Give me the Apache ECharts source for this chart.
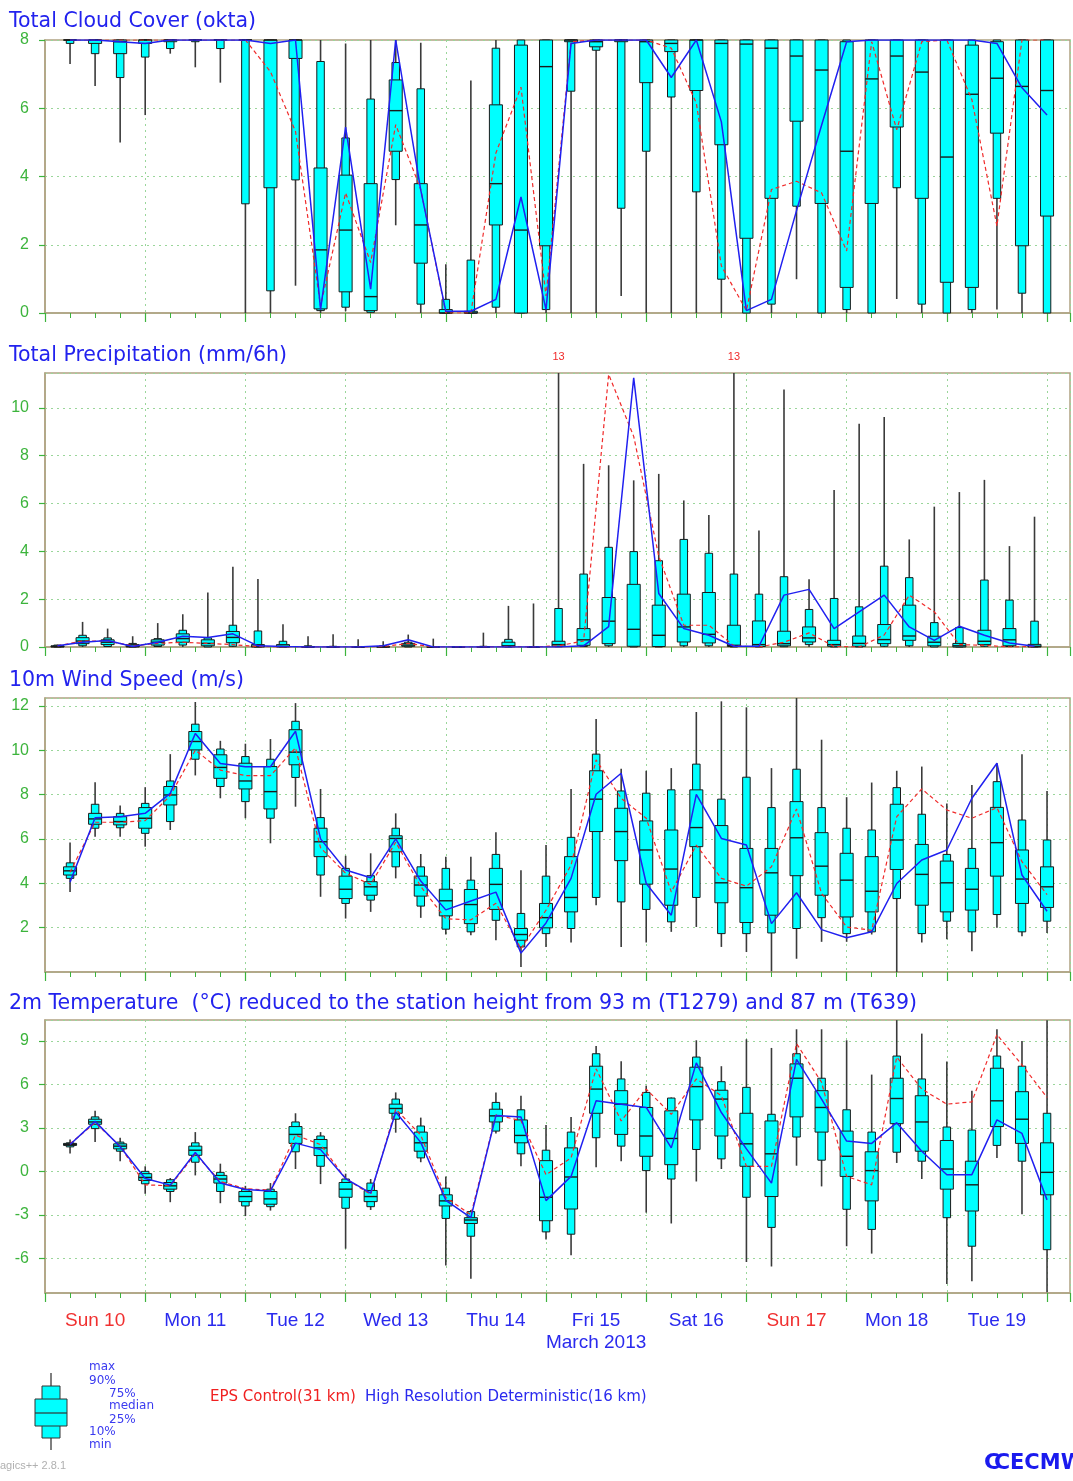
<!DOCTYPE html>
<html><head><meta charset="utf-8">
<script src="https://cdn.jsdelivr.net/npm/echarts@6/dist/echarts.min.js"></script>
<style>html,body{margin:0;padding:0;background:#fff}#c{width:1073px;height:1481px}</style>
</head><body><div id="c"></div>
<script>
// ---------- DATA ----------
const HOURS = [6,12,18,24,30,36,42,48,54,60,66,72,78,84,90,96,102,108,114,120,126,132,138,144,150,156,162,168,174,180,186,192,198,204,210,216,222,228,234,240];
const PRECIP_HOURS = [3,9,15,21,27,33,39,45,51,57,63,69,75,81,87,93,99,105,111,117,123,129,135,141,147,153,159,165,171,177,183,189,195,201,207,213,219,225,231,237];
const DAY_LABELS = ['Sun 10','Mon 11','Tue 12','Wed 13','Thu 14','Fri 15','Sat 16','Sun 17','Mon 18','Tue 19'];
const DAY_LABEL_HOURS = [12,36,60,84,108,132,156,180,204,228];
const MONTH_LABEL = 'March 2013';

// boxes: [min, p10, p25, median, p75, p90, max]
const cloudBoxes = [
[7.3,7.9,8,8,8,8,8],[6.65,7.6,7.9,8,8,8,8],[5.0,6.9,7.6,7.95,8,8,8],[5.8,7.5,7.9,8,8,8,8],
[7.6,7.75,7.95,8,8,8,8],[7.2,7.95,8,8,8,8,8],[6.75,7.75,8,8,8,8,8],[0,3.2,8,8,8,8,8],
[0,0.65,3.67,8,8,8,8],[0.8,3.9,7.46,8,8,8,8],[0,0.07,0.12,1.85,4.25,7.37,8],[0.05,0.17,0.62,2.43,4.04,5.13,7.9],
[0,0.02,0.07,0.48,3.79,6.27,8],[2.57,3.91,4.74,5.93,6.83,7.34,8],[0,0.26,1.46,2.58,3.79,6.57,7.92],[0,0,0,0,0.1,0.4,1.43],
[0,0,0,0,0.05,1.55,6.81],[0,0.17,2.58,3.79,6.1,7.76,8],[0,0,0,2.43,7.85,8,8],[0,0.1,1.97,7.22,8,8,8],
[0,6.5,7.95,8,8,8,8],[0,7.7,7.8,7.95,8,8,8],[0.5,3.07,7.95,8,8,8,8],[0,4.74,6.75,7.95,8,8,8],
[0,6.33,7.66,7.9,8,8,8],[0,3.55,6.52,8,8,8,8],[0,0.99,4.93,7.9,8,8,8],[0,0,2.19,7.88,8,8,8],
[0,0.26,3.36,7.76,8,8,8],[0.99,3.13,5.62,7.53,8,8,8],[0,0,3.21,7.12,8,8,8],[0,0.1,0.75,4.74,7.95,8,8],
[0,0,3.21,6.86,8,8,8],[0.41,3.67,5.45,7.53,8,8,8],[0,0.26,3.36,7.06,8,8,8],[0,0,0.9,4.57,8,8,8],
[0,0.1,0.75,6.41,7.85,8,8],[0.1,3.36,5.27,6.88,7.95,8,8],[0,0.58,1.97,6.64,8,8,8],[0,0,2.84,6.52,8,8,8]];
const cloudControl = [8,8,8,8,8,8,8,8,7.07,5.32,0.2,3.52,1.48,5.52,3.62,0,0,4.69,6.62,0.5,7.95,8,8,8,7.76,6.15,1.38,0.07,3.62,3.86,3.52,1.82,7.95,5.37,7.95,8,6.25,2.55,8,8];
const cloudHres = [8,8,7.95,7.9,8,8,8,8,7.9,8,0.1,5.45,0.7,8,3.6,0.05,0.05,0.4,3.4,0.1,7.9,8,8,8,6.9,8,5.6,0.07,0.4,3.0,5.5,7.95,8,8,8,8,8,7.9,6.6,5.8];

const precipBoxes = [
[0,0,0,0.02,0.05,0.08,0.1],[0,0.05,0.14,0.25,0.39,0.49,1.05],[0,0.02,0.1,0.2,0.3,0.38,0.77],[0,0,0,0.03,0.1,0.15,0.45],
[0,0.02,0.08,0.2,0.3,0.35,1.0],[0,0.08,0.2,0.35,0.55,0.7,1.37],[0,0,0.05,0.15,0.3,0.38,2.28],[0,0.03,0.18,0.4,0.65,0.91,3.36],
[0,0,0,0.03,0.1,0.67,2.84],[0,0,0,0.03,0.1,0.24,0.95],[0,0,0,0,0.02,0.05,0.45],[0,0,0,0,0.01,0.03,0.53],
[0,0,0,0,0,0.02,0.32],[0,0,0,0,0.02,0.05,0.24],[0,0,0.03,0.08,0.15,0.2,0.52],[0,0,0,0,0,0,0.35],
[0,0,0,0,0,0,0],[0,0,0,0,0.01,0.03,0.6],[0,0,0.01,0.05,0.2,0.32,1.72],[0,0,0,0,0,0.02,1.82],
[0,0.01,0.03,0.1,0.24,1.61,13],[0,0.02,0.07,0.3,0.77,3.05,7.66],[0,0.05,0.14,1.08,2.07,4.17,7.6],[0,0,0.03,0.74,2.62,3.99,6.97],
[0,0,0.02,0.49,1.75,3.61,7.24],[0,0.05,0.21,0.84,2.21,4.5,6.13],[0,0.05,0.17,0.53,2.28,3.92,5.52],[0,0,0.02,0.07,0.91,3.05,13],
[0,0,0.02,0.1,1.09,2.21,4.87],[0,0.01,0.05,0.14,0.66,2.94,10.77],[0,0.1,0.21,0.38,0.84,1.57,2.83],[0,0,0.03,0.1,0.28,2.03,6.57],
[0,0,0.03,0.15,0.46,1.68,9.34],[0,0.03,0.14,0.31,0.94,3.38,9.62],[0,0.05,0.28,0.46,1.75,2.9,4.5],[0,0,0.05,0.2,0.45,1.02,5.87],
[0,0,0,0.05,0.15,0.81,6.48],[0,0.03,0.1,0.24,0.7,2.8,6.99],[0,0.02,0.05,0.3,0.77,1.96,4.22],[0,0,0,0.03,0.11,1.08,5.45]];
const precipControl = [0.05,0.25,0.25,0.05,0.15,0.2,0.15,0.1,0.02,0,0,0,0,0.02,0.15,0,0,0,0.02,0,0.05,0.25,11.4,8.81,3.8,0.91,0.91,0.05,0,0.2,0.59,0.02,0,0.5,2.17,1.47,0.1,0.07,0,0.02];
const precipHres = [0.05,0.2,0.27,0.02,0.2,0.45,0.4,0.55,0.05,0.02,0,0,0,0.05,0.3,0,0,0,0,0,0,0.05,0.85,11.26,2.24,0.77,0.49,0.03,0.03,2.17,2.41,0.77,1.47,2.17,0.84,0.28,0.87,0.49,0.17,0.03];

const windBoxes = [
[3.61,4.22,4.37,4.56,4.74,4.92,5.84],[6.1,6.48,6.66,6.9,7.15,7.56,8.55],[6.1,6.5,6.63,6.78,7.0,7.15,7.5],[5.65,6.25,6.48,6.93,7.41,7.6,8.33],
[6.4,6.78,7.53,7.98,8.36,8.61,9.82],[8.86,9.59,10.01,10.39,10.84,11.17,12.17],[7.83,8.36,8.73,9.22,9.79,10.05,10.42],[6.93,7.68,8.25,8.61,9.41,9.71,10.29],
[5.8,6.93,7.35,8.13,9.26,9.59,10.5],[7.45,8.77,9.34,9.91,10.92,11.3,12.12],[3.39,4.37,5.2,5.87,6.48,6.96,8.25],[2.41,3.09,3.31,3.73,4.32,4.67,5.24],
[2.71,3.24,3.46,3.84,4.07,4.34,5.35],[4.22,4.74,5.42,6.02,6.14,6.48,7.15],[2.44,2.97,3.42,3.92,4.32,4.74,5.32],[1.69,1.93,2.53,3.21,3.73,4.67,5.2],
[1.66,1.81,2.18,3.04,3.72,4.14,5.2],[1.43,2.33,2.82,3.95,4.67,5.3,6.3],[0.23,1.13,1.43,1.69,1.96,2.64,4.59],[1.13,1.73,1.99,2.45,3.09,4.32,5.72],
[1.33,1.96,2.71,3.36,5.2,6.07,8.25],[3.01,3.36,6.33,7.79,9.07,9.82,11.4],[1.13,3.16,5.02,6.33,7.38,8.16,9.16],[1.33,2.82,3.96,5.5,6.81,8.06,9.07],
[1.81,2.26,3.01,4.64,6.4,8.21,9.19],[2.03,3.36,5.65,6.51,8.21,9.37,11.72],[1.13,1.73,3.12,4.02,6.6,7.79,12.2],[0.9,1.73,2.23,3.8,5.57,8.78,11.93],
[0.03,1.76,2.56,4.47,5.57,7.41,9.19],[0.6,1.96,4.34,6.05,7.68,9.14,12.35],[1.36,2.45,3.46,4.77,6.28,7.41,10.47],[1.36,1.73,2.48,4.14,5.35,6.48,7.88],
[1.69,1.81,2.71,3.64,5.2,6.4,8.54],[0,3.31,4.62,5.95,7.56,8.31,9.07],[1.33,1.73,3.01,4.4,5.75,7.11,9.26],[1.48,2.29,2.71,4.02,5.0,5.3,7.6],
[0.93,1.81,2.79,3.73,4.67,5.57,8.43],[1.99,2.59,4.32,5.83,7.42,8.58,9.41],[1.61,1.81,3.09,4.19,5.5,6.85,9.82],[1.76,2.29,2.91,3.84,4.74,5.95,8.16]];
const windControl = [4.5,6.75,6.75,6.82,7.95,10.0,9.1,8.85,8.85,10.1,5.6,4.45,3.95,5.85,3.85,2.4,2.35,3.1,1.05,2.79,4.82,9.56,7.83,6.93,3.61,5.72,4.22,3.87,4.74,7.35,3.54,2.03,1.88,7.0,8.25,7.3,6.93,7.41,4.97,3.49];
const windHres = [4.05,6.95,7.0,7.15,8.05,10.75,9.4,9.25,9.25,10.85,6.0,4.6,4.25,6.0,4.1,2.8,3.2,3.6,0.85,2.21,4.22,8.01,8.96,3.99,2.56,8.01,6.02,5.72,2.18,3.57,1.91,1.54,1.81,3.99,5.05,5.5,7.83,9.41,4.37,2.74];

const tempBoxes = [
[1.23,1.69,1.79,1.86,1.93,1.97,2.2],[2.02,2.95,3.25,3.41,3.6,3.76,4.18],[0.7,1.39,1.55,1.74,1.9,2.02,2.32],[-1.55,-0.86,-0.63,-0.42,-0.16,0,0.35],
[-2.13,-1.39,-1.23,-1.0,-0.77,-0.58,-0.46],[-0.28,0.63,1.11,1.46,1.74,1.97,2.71],[-2.2,-1.39,-0.81,-0.53,-0.28,-0.07,0.53],[-3.09,-2.39,-2.09,-1.74,-1.39,-1.23,-1.0],
[-2.71,-2.44,-2.27,-1.9,-1.39,-1.23,-0.81],[0.16,1.35,1.93,2.55,3.09,3.41,4.01],[-0.88,0.35,1.09,1.62,2.2,2.44,2.71],[-5.34,-2.55,-1.79,-1.23,-0.77,-0.53,-0.16],
[-2.67,-2.44,-2.09,-1.74,-1.32,-0.81,-0.53],[2.67,3.6,4.01,4.34,4.64,4.99,5.45],[0.63,0.93,1.39,1.97,2.71,3.13,3.71],[-6.5,-3.25,-2.39,-2.04,-1.62,-1.16,-0.35],
[-7.42,-4.48,-3.6,-3.36,-3.2,-2.78,-2.67],[2.62,2.78,3.41,3.83,4.29,4.76,5.45],[0.35,1.21,1.97,2.48,3.55,4.25,5.22],[-4.71,-4.18,-3.41,-1.79,0.74,1.46,3.2],
[-5.8,-4.34,-2.6,-0.39,1.62,2.71,3.76],[0.28,2.32,4.01,5.68,7.26,8.12,8.65],[0.7,1.74,2.55,4.64,5.57,6.38,7.61],[-2.85,0.05,1.04,2.44,4.41,5.45,5.92],
[-3.6,-0.53,0.46,2.27,4.18,5.06,5.1],[-0.7,1.51,3.55,5.85,7.19,7.89,9.05],[0.16,0.86,2.44,4.99,5.6,6.19,7.26],[-6.26,-1.79,0.35,1.9,4.01,5.8,9.12],
[-6.57,-3.87,-1.74,1.21,3.48,3.94,8.52],[0.39,2.37,3.76,6.43,7.42,8.12,9.81],[-1.04,0.77,2.71,4.41,5.57,6.43,9.81],[-5.17,-2.62,-0.35,1.04,2.78,4.25,9.05],
[-5.68,-4.01,-2.04,0.05,1.35,2.71,6.68],[0.58,1.32,3.29,5.03,6.43,7.96,10.44],[-0.53,0.7,1.39,3.41,5.22,6.38,9.51],[-7.77,-3.2,-1.23,0.16,2.13,3.06,7.59],
[-7.59,-5.17,-2.74,-0.93,0.7,2.85,5.57],[0.93,1.79,3.09,4.87,7.12,7.96,9.81],[-2.97,0.7,1.93,3.6,5.5,7.26,9.0],[-8.35,-5.41,-1.62,-0.07,1.97,4.01,10.44]];
const tempControl = [1.9,3.35,1.75,-0.93,-1.0,1.2,-0.7,-1.2,-1.3,2.5,1.85,-0.5,-1.6,4.3,2.5,-1.8,-3.0,3.9,3.5,-0.23,0.93,7.08,3.48,5.68,3.94,6.38,5.22,0.35,0.35,8.82,6.15,-0.35,-0.93,7.89,5.68,4.64,4.8,9.44,7.35,5.1];
const tempHres = [1.85,3.45,1.7,-0.5,-0.95,1.3,-0.8,-1.25,-1.35,1.95,1.5,-0.5,-1.5,4.1,2.0,-2.0,-3.2,3.85,3.75,-2.02,-0.35,4.87,4.64,4.41,1.62,7.49,4.06,1.55,-0.81,7.73,4.99,2.09,1.93,3.36,1.39,-0.23,-0.23,3.55,2.62,-1.97];

const TITLES = ['Total Cloud Cover (okta)','Total Precipitation (mm/6h)','10m Wind Speed (m/s)',
  '2m Temperature  (\u00B0C) reduced to the station height from 93 m (T1279) and 87 m (T639)'];

// ---------- STYLE / LAYOUT ----------
const FONT = '"Liberation Sans", Arial, Helvetica, sans-serif';
const WIDE = '"DejaVu Sans", "Liberation Sans", sans-serif';
const GREEN = '#3cb43c', FRAME = '#b0a282', GRIDC = '#9ad69a', BLUE = '#2222ee', RED = '#f02a2a';
const panels = [
  {top:40,  height:273, min:0, max:8,     step:2, showMin:true,  showMax:true,  boxes:cloudBoxes,  hours:HOURS, ctrl:cloudControl, hres:cloudHres, titleTop:11, overflowLabel:false},
  {top:373, height:274, min:0, max:11.46, step:2, showMin:true,  showMax:false, boxes:precipBoxes, hours:PRECIP_HOURS, ctrl:precipControl, hres:precipHres, titleTop:345, overflowLabel:true},
  {top:698, height:274, min:0, max:12.35, step:2, showMin:false, showMax:false, boxes:windBoxes,   hours:HOURS, ctrl:windControl, hres:windHres, titleTop:670, overflowLabel:false},
  {top:1020,height:273, min:-8.4, max:10.45, step:3, showMin:false, showMax:false, boxes:tempBoxes, hours:HOURS, ctrl:tempControl, hres:tempHres, titleTop:993, overflowLabel:false}
];

function makeBox(yMax, overflowLabel) {
  return function (params, api) {
    const t = api.value(0);
    const raw = [1,2,3,4,5,6,7].map(k => api.value(k));
    const v = raw.map(a => Math.min(a, yMax));
    const cx = api.coord([t, 0])[0];
    const py = a => api.coord([t, a])[1];
    const w6 = api.size([6, 0])[0];
    const wide = w6 * 0.52, narrow = w6 * 0.3;
    const children = [
      {type:'line', shape:{x1:cx, y1:py(v[0]), x2:cx, y2:py(v[6])}, style:{stroke:'#3a3a3a', lineWidth:1.6}},
      {type:'rect', shape:{x:cx-narrow/2, y:py(v[5]), width:narrow, height:py(v[1])-py(v[5])}, style:{fill:'#00ffff', stroke:'#1a1a1a', lineWidth:1}},
      {type:'rect', shape:{x:cx-wide/2, y:py(v[4]), width:wide, height:py(v[2])-py(v[4])}, style:{fill:'#00ffff', stroke:'#1a1a1a', lineWidth:1}},
      {type:'line', shape:{x1:cx-wide/2, y1:py(v[3]), x2:cx+wide/2, y2:py(v[3])}, style:{stroke:'#1a1a1a', lineWidth:1.4}}
    ];
    if (overflowLabel && raw[6] > yMax) {
      children.push({type:'text', x:cx, y:py(yMax)-11,
        style:{text:String(Math.round(raw[6])), fill:RED, fontSize:11, fontFamily:FONT, align:'center', verticalAlign:'bottom'}});
    }
    return {type:'group', children};
  };
}

const grid = [], xAxis = [], yAxis = [], series = [], title = [];
panels.forEach((p, i) => {
  grid.push({left:45, right:3, top:p.top, height:p.height, show:true, borderColor:FRAME, borderWidth:1.5});
  title.push({text:TITLES[i], left:9, top:p.titleTop, padding:0,
    textStyle:{color:BLUE, fontSize:20.5, fontWeight:'normal', fontFamily:WIDE}});
  const xa = {gridIndex:i, type:'value', min:0, max:245.5, interval:24,
    axisLine:{show:true, onZero:false, lineStyle:{color:FRAME, width:1.5}},
    axisTick:{show:true, length:9, lineStyle:{color:GREEN, width:1.2}},
    minorTick:{show:true, splitNumber:4, length:5, lineStyle:{color:GREEN, width:1}},
    splitLine:{show:true, lineStyle:{color:GRIDC, type:[2,4], width:1}},
    axisLabel:{show:false}};
  if (i === 3) {
    xa.axisLabel = {show:true, customValues:DAY_LABEL_HOURS, margin:17, fontFamily:FONT, fontSize:19, lineHeight:22,
      formatter: function (val) {
        const k = Math.floor(val / 24);
        const lab = DAY_LABELS[k];
        if (!lab) return '';
        const key = lab.indexOf('Sun') === 0 ? 's' : 'w';
        let s = '{' + key + '|' + lab + '}';
        if (k === 5) s += '\n{w|' + MONTH_LABEL + '}';
        return s;
      },
      rich:{s:{color:'#f03030', fontSize:19, fontFamily:FONT, lineHeight:22}, w:{color:'#2a2aee', fontSize:19, fontFamily:FONT, lineHeight:22}}};
  }
  xAxis.push(xa);
  const ya = {gridIndex:i, type:'value', min:p.min, max:p.max,
    axisLine:{show:true, onZero:false, lineStyle:{color:FRAME, width:1.5}},
    axisTick:{show:true, length:6, lineStyle:{color:GREEN, width:1.2}},
    axisLabel:{color:GREEN, fontSize:16, fontFamily:FONT, margin:16, showMinLabel:p.showMin, showMaxLabel:p.showMax},
    splitLine:{show:true, lineStyle:{color:GRIDC, type:[2,4], width:1}}};
  if (p.min === 0) ya.interval = p.step; else { ya.minInterval = p.step; ya.maxInterval = p.step; }
  yAxis.push(ya);
  series.push({type:'custom', xAxisIndex:i, yAxisIndex:i, renderItem:makeBox(p.max, p.overflowLabel), silent:true, z:2,
    data:p.hours.map((t, j) => [t].concat(p.boxes[j])), encode:{x:0, y:[1,2,3,4,5,6,7]}});
  series.push({type:'line', xAxisIndex:i, yAxisIndex:i, data:p.hours.map((t, j) => [t, p.ctrl[j]]), symbol:'none', silent:true, z:3,
    lineStyle:{color:RED, width:1.2, type:[4,3]}});
  series.push({type:'line', xAxisIndex:i, yAxisIndex:i, data:p.hours.map((t, j) => [t, p.hres[j]]), symbol:'none', silent:true, z:4,
    lineStyle:{color:'#2020f0', width:1.5}});
});

const LEG = '#3a3af0';
const smallText = (txt, x, y) => ({type:'text', left:x, top:y-7, style:{text:txt, fill:LEG, fontSize:12, fontFamily:WIDE}});
const graphic = [
  {type:'line', shape:{x1:51, y1:1373, x2:51, y2:1450}, style:{stroke:'#555', lineWidth:1.5}},
  {type:'rect', shape:{x:42, y:1386, width:18, height:52}, style:{fill:'#00ffff', stroke:'#333', lineWidth:1}},
  {type:'rect', shape:{x:35, y:1399, width:32, height:27}, style:{fill:'#00ffff', stroke:'#333', lineWidth:1}},
  {type:'line', shape:{x1:35, y1:1413, x2:67, y2:1413}, style:{stroke:'#333', lineWidth:1.2}},
  smallText('max', 89, 1368), smallText('90%', 89, 1382), smallText('75%', 109, 1395), smallText('median', 109, 1407),
  smallText('25%', 109, 1421), smallText('10%', 89, 1433), smallText('min', 89, 1446),
  {type:'text', left:210, top:1390, style:{text:'EPS Control(31 km)', fill:'#f02020', fontSize:15, fontFamily:WIDE}},
  {type:'text', left:365, top:1390, style:{text:'High Resolution Deterministic(16 km)', fill:'#2a2aee', fontSize:15, fontFamily:WIDE}},
  {type:'text', left:0, top:1460, style:{text:'agics++ 2.8.1', fill:'#b0b0b0', fontSize:11, fontFamily:FONT}},
  {type:'text', left:984, top:1452, style:{text:'C', fill:'#1a1aee', fontSize:22, fontWeight:'bold', fontFamily:WIDE}},
  {type:'text', left:994, top:1452, style:{text:'C', fill:'#1a1aee', fontSize:22, fontWeight:'bold', fontFamily:WIDE}},
  {type:'text', left:1010, top:1453, style:{text:'ECMWF', fill:'#1a1aee', fontSize:21, fontWeight:'bold', fontFamily:WIDE}}
];

const chart = echarts.init(document.getElementById('c'), null, {renderer:'canvas'});
chart.setOption({animation:false, backgroundColor:'#ffffff', title, grid, xAxis, yAxis, series, graphic});
</script></body></html>
